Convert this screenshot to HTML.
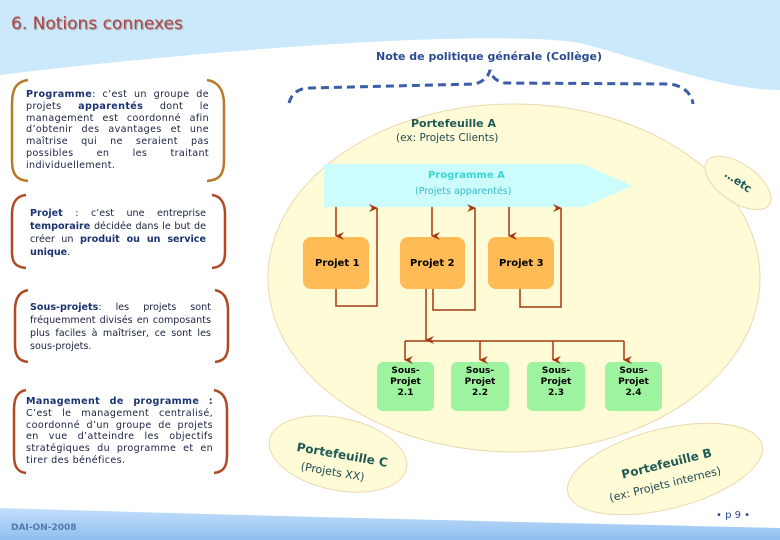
<!DOCTYPE html>
<html><head><meta charset="utf-8"><style>
body{margin:0;width:780px;height:540px;overflow:hidden;background:#fff;font-family:"DejaVu Sans","Liberation Sans",sans-serif;position:relative}
.t{position:absolute;font-size:9.6px;line-height:11.8px;color:#1a2240;text-align:justify;text-align-last:left}
.t b{color:#1a3370}
.a{position:absolute;font-family:"DejaVu Sans",sans-serif}
</style></head><body>
<svg width="780" height="540" style="position:absolute;left:0;top:0">
<defs>
<linearGradient id="bb" x1="0" y1="0" x2="0" y2="1"><stop offset="0" stop-color="#c8e2fb"/><stop offset="1" stop-color="#8fbff0"/></linearGradient>
<marker id="ar" markerWidth="8" markerHeight="9" refX="4" refY="8" orient="auto-start-reverse" markerUnits="userSpaceOnUse"><path d="M0,0 L4,9 L8,0 L4,3Z" fill="#a33a12"/></marker>
</defs>
<path d="M0,0 H780 V90 C720,90 640,58 580,43 C500,30 250,45 0,75 Z" fill="#cce8fb"/>
<path d="M0,508 C200,514 500,522 700,526 C720,505 760,505 780,505 V540 H0 Z" fill="url(#bb)"/>
<path d="M690,526 C700,505 770,500 780,505 V528 Z" fill="#fff"/>
<ellipse cx="514" cy="278" rx="246" ry="174" fill="#fefbd6" stroke="#ecd8b0" stroke-width="1"/>
<ellipse cx="738" cy="183" rx="38" ry="19" transform="rotate(35 738 183)" fill="#fefbd6" stroke="#ecd8b0"/>
<ellipse cx="338" cy="454" rx="70" ry="36" transform="rotate(12 338 454)" fill="#fefbd6" stroke="#ecd8b0"/>
<ellipse cx="665" cy="469" rx="100" ry="40" transform="rotate(-14 665 469)" fill="#fefbd6" stroke="#ecd8b0"/>
<path d="M289,103 C292,92 300,88 310,88 L475,84 C482,82 488,78 490,70 C492,78 498,82 505,83 L670,84 C685,86 692,95 693,104" fill="none" stroke="#3a5ea8" stroke-width="3" stroke-dasharray="8,5"/>
<path d="M324,164 H583 L633,186 L583,207 H324 Z" fill="#ccfcfc"/>
<g fill="#ffbb55">
<rect x="303" y="237" width="66" height="52" rx="8"/><rect x="400" y="237" width="65" height="52" rx="8"/><rect x="488" y="237" width="66" height="52" rx="8"/>
</g>
<g fill="#9ef39e">
<rect x="377" y="362" width="57" height="49" rx="6"/><rect x="451" y="362" width="58" height="49" rx="6"/><rect x="527" y="362" width="58" height="49" rx="6"/><rect x="605" y="362" width="57" height="49" rx="6"/>
</g>
<g stroke="#a33a12" stroke-width="1.5" fill="none">
<path d="M336,207 V236" marker-end="url(#ar)"/><path d="M432,207 V236" marker-end="url(#ar)"/><path d="M509,207 V236" marker-end="url(#ar)"/>
<path d="M336,289 V306 H377 V208" marker-end="url(#ar)"/>
<path d="M433,289 V310 H475 V208" marker-end="url(#ar)"/>
<path d="M520,289 V307 H561 V208" marker-end="url(#ar)"/>
<path d="M426,289 V340" marker-end="url(#ar)"/>
<path d="M405,341 H624"/>
<path d="M405,341 V360" marker-end="url(#ar)"/><path d="M480,341 V360" marker-end="url(#ar)"/><path d="M553,341 V360" marker-end="url(#ar)"/><path d="M624,341 V360" marker-end="url(#ar)"/>
</g>
<g fill="none" stroke-width="2.5">
<path d="M28,80 C14,82 12,92 12,105 V160 C12,174 16,180 28,181" stroke="#b87a2a"/>
<path d="M207,80 C220,82 224,92 224,105 V160 C224,174 220,180 207,181" stroke="#b87a2a"/>
<path d="M26,195 C15,196 12,205 12,214 V252 C12,262 15,267 26,268" stroke="#b04a25"/>
<path d="M212,195 C222,196 225,205 225,214 V252 C225,262 222,267 212,268" stroke="#b04a25"/>
<path d="M28,290 C18,292 15,300 15,310 V345 C15,355 18,361 28,362" stroke="#b04a25"/>
<path d="M215,290 C225,292 228,300 228,310 V345 C228,355 225,361 215,362" stroke="#b04a25"/>
<path d="M26,390 C16,392 14,400 14,410 V455 C14,466 17,472 26,473" stroke="#b04a25"/>
<path d="M214,390 C224,392 227,400 227,410 V455 C227,466 224,472 214,473" stroke="#b04a25"/>
</g>
</svg>
<div class="a" style="left:11px;top:14px;font-size:17px;color:#b04545;text-shadow:1px 1px 1px #999">6. Notions connexes</div>
<div class="a" style="left:376px;top:50px;font-size:11px;color:#2a4a90;font-weight:bold">Note de politique générale (Collège)</div>
<div class="a" style="left:411px;top:117px;font-size:11px;color:#1f5a55;font-weight:bold">Portefeuille A</div>
<div class="a" style="left:396px;top:132px;font-size:10.5px;color:#1f4a55">(ex: Projets Clients)</div>
<div class="a" style="left:428px;top:170px;font-size:10px;color:#3ad6d6;font-weight:bold">Programme A</div>
<div class="a" style="left:415px;top:186px;font-size:9.5px;color:#3ab8c8">(Projets apparentés)</div>
<div class="a" style="left:723px;top:175px;font-size:11px;color:#1f5a55;font-weight:bold;transform:rotate(35deg)">…etc</div>
<div class="a" style="left:315px;top:258px;font-size:10px;font-weight:bold">Projet 1</div>
<div class="a" style="left:410px;top:258px;font-size:10px;font-weight:bold">Projet 2</div>
<div class="a" style="left:499px;top:258px;font-size:10px;font-weight:bold">Projet 3</div>
<div class="a" style="left:377px;top:366px;width:57px;text-align:center;font-size:9px;line-height:11px;font-weight:bold">Sous-<br>Projet<br>2.1</div>
<div class="a" style="left:451px;top:366px;width:58px;text-align:center;font-size:9px;line-height:11px;font-weight:bold">Sous-<br>Projet<br>2.2</div>
<div class="a" style="left:527px;top:366px;width:58px;text-align:center;font-size:9px;line-height:11px;font-weight:bold">Sous-<br>Projet<br>2.3</div>
<div class="a" style="left:605px;top:366px;width:57px;text-align:center;font-size:9px;line-height:11px;font-weight:bold">Sous-<br>Projet<br>2.4</div>
<div class="a" style="left:298px;top:440px;font-size:12px;color:#1f5a55;font-weight:bold;transform:rotate(10deg);transform-origin:0 0">Portefeuille C</div>
<div class="a" style="left:302px;top:460px;font-size:11px;color:#1f4a55;transform:rotate(10deg);transform-origin:0 0">(Projets XX)</div>
<div class="a" style="left:620px;top:468px;font-size:12px;color:#1f5a55;font-weight:bold;transform:rotate(-14deg);transform-origin:0 0">Portefeuille B</div>
<div class="a" style="left:608px;top:492px;font-size:11px;color:#1f4a55;transform:rotate(-14deg);transform-origin:0 0">(ex: Projets internes)</div>
<div class="a" style="left:716px;top:510px;font-size:10px;color:#2a4a90">• p 9 •</div>
<div class="a" style="left:11px;top:523px;font-size:9px;color:#5577aa;font-weight:bold">DAI-ON-2008</div>
<div class="t" style="left:26px;top:89px;width:183px;letter-spacing:0.35px"><b>Programme</b>: c’est un groupe de projets <b>apparentés</b> dont le management est coordonné afin d’obtenir des avantages et une maîtrise qui ne seraient pas possibles en les traitant individuellement.</div>
<div class="t" style="left:30px;top:207px;width:176px;line-height:13px"><b>Projet</b> : c’est une entreprise <b>temporaire</b> décidée dans le but de créer un <b>produit ou un service unique</b>.</div>
<div class="t" style="left:30px;top:301px;width:181px;line-height:13px"><b>Sous-projets</b>: les projets sont fréquemment divisés en composants plus faciles à maîtriser, ce sont les sous-projets.</div>
<div class="t" style="left:26px;top:396px;width:187px;letter-spacing:0.35px"><b>Management de programme :</b> C’est le management centralisé, coordonné d’un groupe de projets en vue d’atteindre les objectifs stratégiques du programme et en tirer des bénéfices.</div>
</body></html>
